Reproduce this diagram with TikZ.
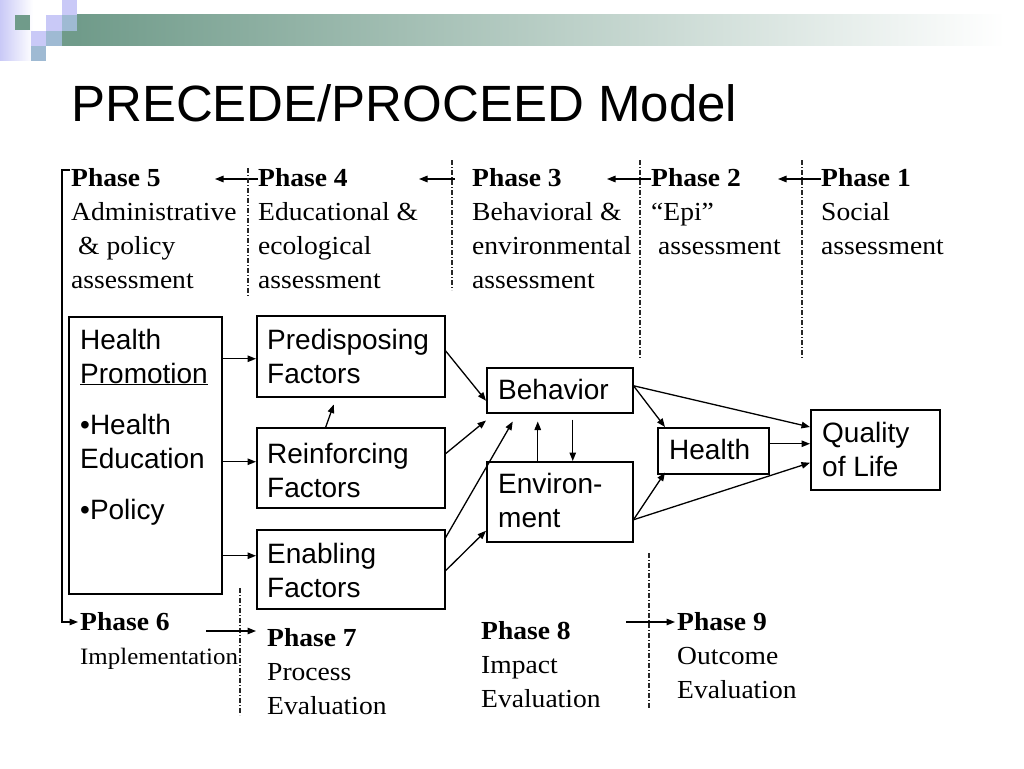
\documentclass[tikz,border=0pt]{standalone}
\usepackage{fontspec}
\setmainfont{Liberation Serif}
\newfontfamily\arialf{Liberation Sans}
\newfontfamily\timesw[FakeStretch=1.06]{Liberation Serif}
\usetikzlibrary{arrows.meta}
\definecolor{teal1}{RGB}{112,155,138}
\definecolor{lav}{RGB}{201,201,247}
\definecolor{bluegrey}{RGB}{159,186,211}
\newcommand{\stk}[1]{\begin{tabular}[t]{@{}l@{}}#1\end{tabular}}
\begin{document}
\begin{tikzpicture}[x=1pt,y=-1pt,
  box/.style={draw, line width=1.5pt, anchor=north west, inner sep=0pt},
  txt/.style={anchor=base west, inner sep=0pt, font=\arialf\fontsize{28}{34}\selectfont},
  hdr/.style={anchor=base west, inner sep=0pt, font=\timesw\fontsize{26}{34}\selectfont},
  arr/.style={line width=1.3pt, -{Triangle[length=8.5pt,width=6.5pt]}},
  ddash/.style={line width=1.1pt, black!85, dash pattern=on 5pt off 2pt on 1pt off 2pt}]
\useasboundingbox[fill=white] (0,0) rectangle (1024,768);

% top decoration
\shade[left color=lav, right color=white] (0,0) rectangle (33,60);
\fill[teal1] (15,15) rectangle (30,30);
\fill[lav] (31,31) rectangle (46,46);
\fill[bluegrey] (31,46) rectangle (46,61);
\fill[lav] (46,15) rectangle (62,31);
\fill[bluegrey] (46,31) rectangle (62,46);
\fill[lav] (62,0) rectangle (77,15);
\fill[bluegrey] (62,15) rectangle (77,31);
\fill[teal1] (62,31) rectangle (77,46);
\shade[left color=teal1, right color=white] (77,15) rectangle (1005,46);

% title
\node[anchor=base west, inner sep=0pt, font=\arialf\fontsize{51}{60}\selectfont] (title) at (71,121) {PRECEDE/PROCEED Model};

% header phases
\node[hdr] (p5) at (71,186) {\stk{\textbf{Phase 5}\\Administrative\\\hspace{7pt}\& policy\\assessment}};
\node[hdr] (p4) at (258,186) {\stk{\textbf{Phase 4}\\Educational \&\\ecological\\assessment}};
\node[hdr] (p3) at (472,186) {\stk{\textbf{Phase 3}\\Behavioral \&\\environmental\\assessment}};
\node[hdr] (p2) at (651,186) {\stk{\textbf{Phase 2}\\“Epi”\\\hspace{7pt}assessment}};
\node[hdr] (p1) at (821,186) {\stk{\textbf{Phase 1}\\Social\\assessment}};

\coordinate (a5) at (215,179);
\coordinate (a4) at (419,179);
\coordinate (a3) at (607,179);
\coordinate (a2) at (778,179);
\draw[arr] (p4.west |- a5) -- (a5);
\draw[arr] (455,179) -- (a4);
\draw[arr] (p2.west |- a3) -- (a3);
\draw[arr] (p1.west |- a2) -- (a2);

% dash-dot separators
\draw[ddash] (248,168) -- (248,297);
\draw[ddash] (452,160) -- (452,290);
\draw[ddash] (640,160) -- (640,358);
\draw[ddash] (802,160) -- (802,358);
\draw[ddash] (240,588) -- (240,715);
\draw[ddash] (649,553) -- (649,708);

% boxes
\node[box, minimum width=153pt, minimum height=277pt] (hp) at (68,316) {};
\node[box, minimum width=188pt, minimum height=81pt] (pre) at (256,315) {};
\node[box, minimum width=188pt, minimum height=80pt] (rei) at (256,427) {};
\node[box, minimum width=188pt, minimum height=79pt] (en) at (256,529) {};
\node[box, minimum width=146pt, minimum height=45pt] (beh) at (486,367) {};
\node[box, minimum width=146pt, minimum height=80pt] (env) at (486,461) {};
\node[box, minimum width=111pt, minimum height=46pt] (hl) at (657,427) {};
\node[box, minimum width=129pt, minimum height=80pt] (ql) at (810,409) {};

% box texts
\node[txt] (hpT) at (80,349) {\stk{Health\\\underline{Promotion}\\[17pt]•Health\\Education\\[17pt]•Policy}};
\node[txt] (preT) at (267,349) {\stk{Predisposing\\Factors}};
\node[txt] (reiT) at (267,463) {\stk{Reinforcing\\Factors}};
\node[txt] (enT) at (267,563) {\stk{Enabling\\Factors}};
\node[txt] (behT) at (498,399) {Behavior};
\node[txt] (envT) at (498,493) {\stk{Environ-\\ment}};
\node[txt] (hlT) at (669,459) {Health};
\node[txt] (qlT) at (822,442) {\stk{Quality\\of Life}};

% connectors
\coordinate (c1) at ([yshift=-2.5pt]pre.west);
\coordinate (c2) at ([yshift=6pt]rei.west);
\coordinate (c3) at ([yshift=13.5pt]en.west);
\draw[arr] (hp.east |- c1) -- (c1);
\draw[arr] (hp.east |- c2) -- (c2);
\draw[arr] (hp.east |- c3) -- (c3);
\draw[arr] ([xshift=-25pt]rei.north) -- ([xshift=-17pt,yshift=-7pt]pre.south);
\draw[arr] ([yshift=5.5pt]pre.east) -- ([yshift=-10.5pt]beh.west);
\draw[arr] ([yshift=14pt]rei.east) -- ([yshift=-7pt]beh.south west);
\draw[arr] ([yshift=31.5pt]en.east) -- ([xshift=-47pt,yshift=-8pt]beh.south);
\draw[arr] ([yshift=-1.5pt]en.east) -- ([yshift=-29pt]env.west);
\draw[arr] ([xshift=-22pt]env.north) -- ([xshift=-22pt,yshift=-8pt]beh.south);
\draw[arr] ([xshift=13pt,yshift=-6pt]beh.south) -- ([xshift=13pt]env.north);
\coordinate (b1) at ([yshift=4.5pt]beh.east);
\draw[arr] (b1) -- ([xshift=8pt]hl.north west);
\draw[arr] (b1) -- ([yshift=-18pt]ql.north west);
\coordinate (h1) at ([yshift=7pt]hl.east);
\draw[arr] (h1) -- (h1 -| ql.west);
\coordinate (e1) at ([yshift=-18pt]env.east);
\draw[arr] (e1) -- ([xshift=8pt,yshift=2pt]hl.south west);
\draw[arr] (e1) -- ([yshift=-13pt]ql.west);

% left bracket to phase 6
\coordinate (br) at (70,170);
\draw[arr] (br) -- (62,170) -- (62,622) -- (78,622);

% bottom phases
\node[hdr] (p6) at (80,630) {\textbf{Phase 6}};
\node[anchor=base west, inner sep=0pt, font=\timesw\fontsize{23.5}{34}\selectfont] (impl) at (80,664) {Implementation};
\node[hdr] (p7) at (267,646) {\stk{\textbf{Phase 7}\\Process\\Evaluation}};
\node[hdr] (p8) at (481,639) {\stk{\textbf{Phase 8}\\Impact\\Evaluation}};
\node[hdr] (p9) at (677,630) {\stk{\textbf{Phase 9}\\Outcome\\Evaluation}};
\coordinate (a7) at (256,631);
\coordinate (a9) at (675,622);
\draw[arr] (206,631) -- (a7);
\draw[arr] (626,622) -- (a9);
\end{tikzpicture}
\end{document}
